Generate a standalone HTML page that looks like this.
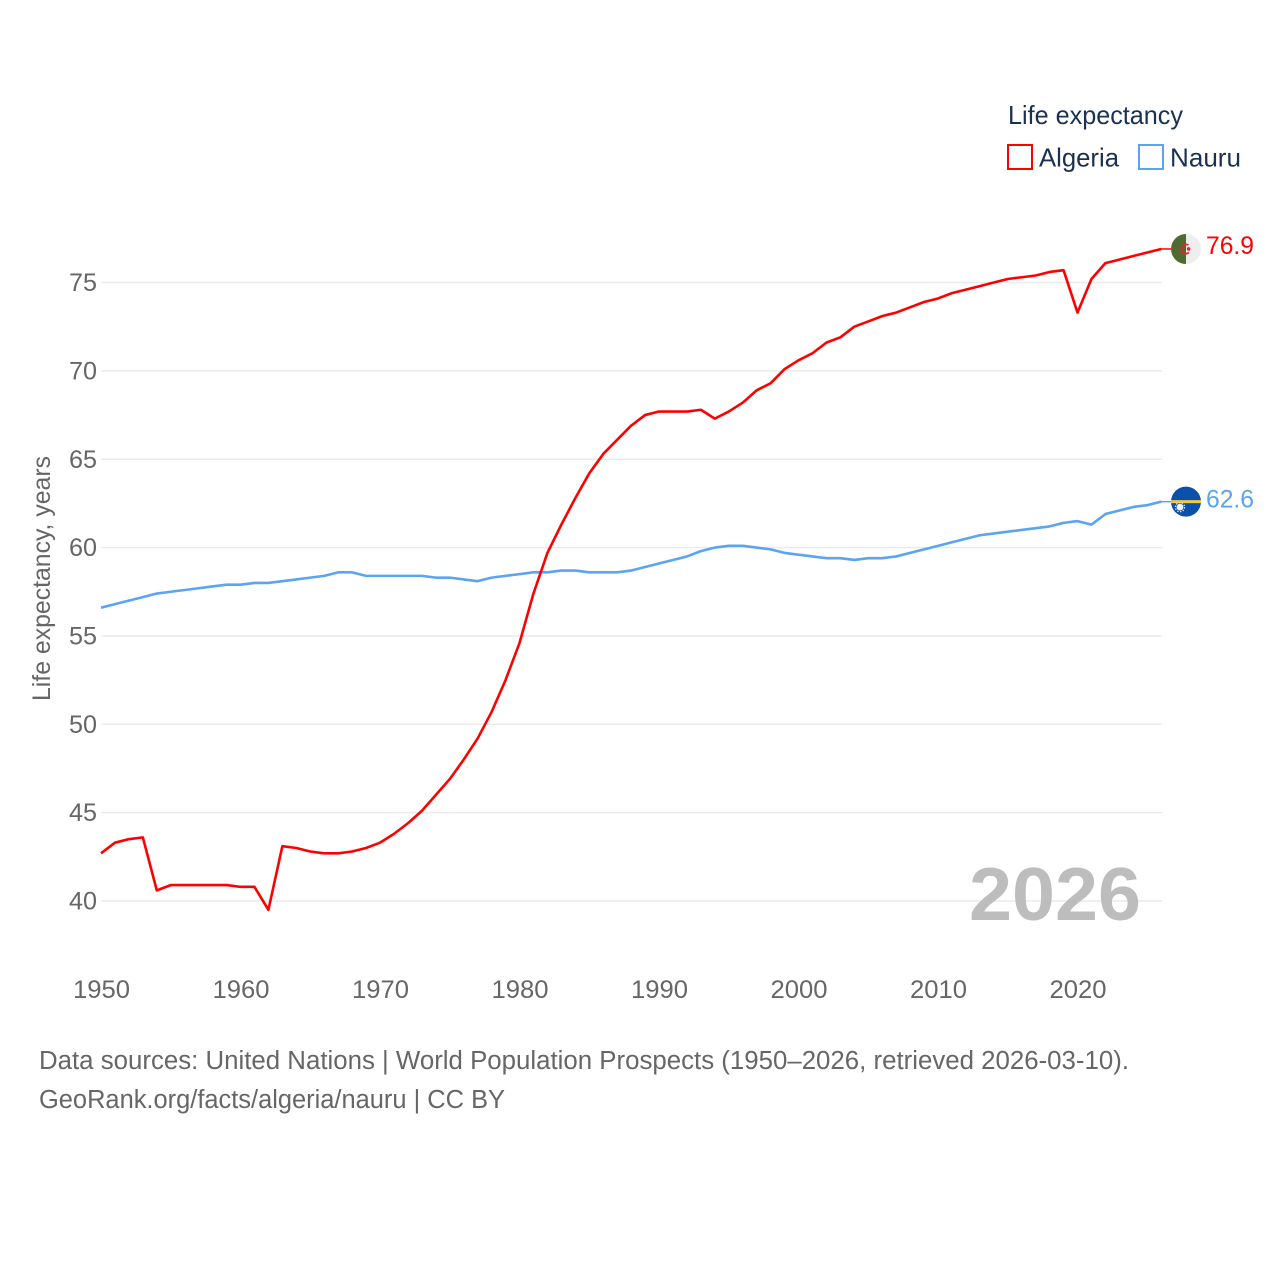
<!DOCTYPE html>
<html lang="en">
<head>
<meta charset="utf-8">
<title>Life expectancy: Algeria vs Nauru</title>
<style>
html,body{margin:0;padding:0;background:#fff;width:1280px;height:1280px;overflow:hidden}
svg{display:block}
text{font-family:"Liberation Sans",sans-serif}
</style>
</head>
<body>
<svg id="chart" xmlns="http://www.w3.org/2000/svg" width="1280" height="1280" viewBox="0 0 1280 1280">
  <g id="grid"></g>
  <g id="yticks"></g>
  <g id="xticks"></g>
  <text transform="translate(50,701) rotate(-90)" font-size="25" fill="#666666" textLength="245" lengthAdjust="spacingAndGlyphs">Life expectancy, years</text>
  <text x="969" y="920" font-size="75" font-weight="700" fill="#bdbdbd" textLength="172" lengthAdjust="spacingAndGlyphs">2026</text>
  <g id="series"></g>
  <g id="ends"></g>
  <g>
    <text x="1008" y="124" font-size="26" fill="#1a3150" textLength="175" lengthAdjust="spacingAndGlyphs">Life expectancy</text>
    <g>
      <rect x="1008" y="145" width="24" height="24" fill="none" stroke="#ff0000" stroke-width="2"></rect>
      <text x="1039" y="166.5" font-size="26" fill="#1a3150" textLength="80" lengthAdjust="spacingAndGlyphs">Algeria</text>
    </g>
    <g>
      <rect x="1139" y="145" width="24" height="24" fill="none" stroke="#5ba4f0" stroke-width="2"></rect>
      <text x="1170" y="166.5" font-size="26" fill="#1a3150" textLength="71" lengthAdjust="spacingAndGlyphs">Nauru</text>
    </g>
  </g>
  <text x="39" y="1069" font-size="25.5" fill="#666666" textLength="1090" lengthAdjust="spacingAndGlyphs">Data sources: United Nations | World Population Prospects (1950–2026, retrieved 2026-03-10).</text>
  <text x="39" y="1108" font-size="25.5" fill="#666666" textLength="466" lengthAdjust="spacingAndGlyphs">GeoRank.org/facts/algeria/nauru | CC BY</text>
</svg>
<script>
const years = [];
for (let y = 1950; y <= 2026; y++) years.push(y);
const algeriaValues = [42.7,43.3,43.5,43.6,40.6,40.9,40.9,40.9,40.9,40.9,40.8,40.8,39.5,43.1,43.0,42.8,42.7,42.7,42.8,43.0,43.3,43.8,44.4,45.1,46.0,46.9,48.0,49.2,50.7,52.5,54.6,57.4,59.7,61.3,62.8,64.2,65.3,66.1,66.9,67.5,67.7,67.7,67.7,67.8,67.3,67.7,68.2,68.9,69.3,70.1,70.6,71.0,71.6,71.9,72.5,72.8,73.1,73.3,73.6,73.9,74.1,74.4,74.6,74.8,75.0,75.2,75.3,75.4,75.6,75.7,73.3,75.2,76.1,76.3,76.5,76.7,76.9];
const nauruValues = [56.6,56.8,57.0,57.2,57.4,57.5,57.6,57.7,57.8,57.9,57.9,58.0,58.0,58.1,58.2,58.3,58.4,58.6,58.6,58.4,58.4,58.4,58.4,58.4,58.3,58.3,58.2,58.1,58.3,58.4,58.5,58.6,58.6,58.7,58.7,58.6,58.6,58.6,58.7,58.9,59.1,59.3,59.5,59.8,60.0,60.1,60.1,60.0,59.9,59.7,59.6,59.5,59.4,59.4,59.3,59.4,59.4,59.5,59.7,59.9,60.1,60.3,60.5,60.7,60.8,60.9,61.0,61.1,61.2,61.4,61.5,61.3,61.9,62.1,62.3,62.4,62.6];
const yTickLabels = [40,45,50,55,60,65,70,75];
const xTickLabels = [1950,1960,1970,1980,1990,2000,2010,2020];

const NS = 'http://www.w3.org/2000/svg';
function xScale(year){ return 101 + (year - 1950) * 13.95; }
function yScale(v){ return 901 - (v - 40) * 17.67; }
function make(tag, attrs, parent, txt){
  const el = document.createElementNS(NS, tag);
  for (const k in attrs) el.setAttribute(k, attrs[k]);
  if (txt !== undefined) el.textContent = txt;
  parent.appendChild(el);
  return el;
}
const gridG = document.getElementById('grid');
const yG = document.getElementById('yticks');
const xG = document.getElementById('xticks');
const seriesG = document.getElementById('series');
const endsG = document.getElementById('ends');

yTickLabels.forEach(function(t){
  const line = make('line', {x1:101, x2:1162, y1:yScale(t), y2:yScale(t), stroke:'#ebebeb', 'stroke-width':1.5}, gridG);
  
  
  const label = make('text', {x:69, y:yScale(t) + 8.5, 'font-size':25, fill:'#666666', textLength:28, lengthAdjust:'spacingAndGlyphs'}, yG, String(t));
  
  
});
xTickLabels.forEach(function(t){
  const label = make('text', {x:xScale(t) - 28, y:998, 'font-size':25, fill:'#666666', textLength:57, lengthAdjust:'spacingAndGlyphs'}, xG, String(t));
  
  
});
function linePoints(values){
  return values.map(function(v, i){ return xScale(years[i]).toFixed(2) + ',' + yScale(v).toFixed(2); }).join(' ');
}
const nauruLine = make('polyline', {points:linePoints(nauruValues), fill:'none', stroke:'#5ba4f0', 'stroke-width':2.6, 'stroke-linejoin':'round'}, seriesG);


const algeriaLine = make('polyline', {points:linePoints(algeriaValues), fill:'none', stroke:'#ff0000', 'stroke-width':2.6, 'stroke-linejoin':'round'}, seriesG);



const lastA = algeriaValues[algeriaValues.length - 1];
const lastN = nauruValues[nauruValues.length - 1];
const ya = yScale(lastA);
const yn = yScale(lastN);
const fx = 1186;
const R = 15;

const connA = make('line', {x1:1160, x2:1171, y1:ya, y2:ya, stroke:'#ff0000', 'stroke-width':1.5}, endsG);


const connN = make('line', {x1:1160, x2:1171, y1:yn, y2:yn, stroke:'#5ba4f0', 'stroke-width':1.5}, endsG);



/* Algeria flag */
const flagA = make('g', {}, endsG);


make('circle', {cx:fx, cy:ya, r:R, fill:'#eeeeee'}, flagA);
make('path', {d:'M' + fx + ' ' + (ya - R) + ' A' + R + ' ' + R + ' 0 0 0 ' + fx + ' ' + (ya + R) + ' Z', fill:'#4f6b31'}, flagA);
make('circle', {cx:fx, cy:ya, r:4.6, fill:'none', stroke:'#e8222e', 'stroke-width':1.8, 'stroke-dasharray':'20 9', 'stroke-dashoffset':'-4'}, flagA);
make('circle', {cx:fx + 2.6, cy:ya, r:1.8, fill:'#e8222e'}, flagA);

/* Nauru flag */
const flagN = make('g', {}, endsG);


make('circle', {cx:fx, cy:yn, r:R, fill:'#0b50ab'}, flagN);
make('rect', {x:fx - R, y:yn - 1.5, width:2 * R, height:3, fill:'#f5c93a'}, flagN);
make('circle', {cx:fx - 6, cy:yn + 5.5, r:3.4, fill:'#f2f2f2'}, flagN);
make('circle', {cx:fx - 6, cy:yn + 5.5, r:4.6, fill:'none', stroke:'#f2f2f2', 'stroke-width':1.2, 'stroke-dasharray':'1.4 1.5'}, flagN);

const valA = make('text', {x:1206, y:ya + 5, 'font-size':25, fill:'#ff0000', textLength:48, lengthAdjust:'spacingAndGlyphs'}, endsG, lastA.toFixed(1));


const valN = make('text', {x:1206, y:yn + 6, 'font-size':25, fill:'#5ba4f0', textLength:48, lengthAdjust:'spacingAndGlyphs'}, endsG, lastN.toFixed(1));


</script>
</body>
</html>
